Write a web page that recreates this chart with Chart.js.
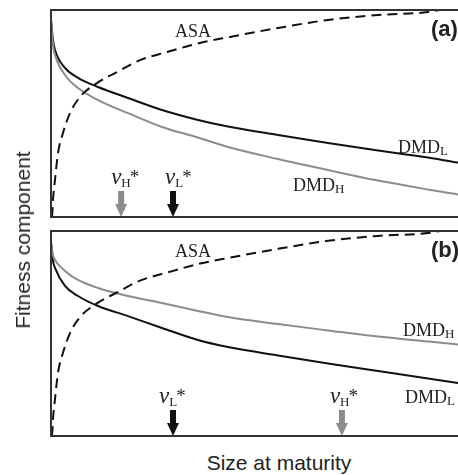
<!DOCTYPE html>
<html>
<head>
<meta charset="utf-8">
<script src="https://cdn.jsdelivr.net/npm/chart.js@4"></script>
<style>
  body { margin: 0; background: #fff; width: 458px; height: 475px; overflow: hidden; position: relative; }
  canvas { position: absolute; left: 0; }
  #pa { top: 0; }
  #pb { top: 225px; }
  .title { position: absolute; font-family: "Liberation Sans", Arial, sans-serif; font-size: 21px; color: #222; white-space: nowrap; }
  #ytitle { left: 23px; top: 240px; transform: translate(-50%, -50%) rotate(-90deg); }
  #xtitle { left: 279px; top: 463px; transform: translate(-50%, -50%); }
</style>
</head>
<body>
<canvas id="pa" width="470" height="225"></canvas>
<canvas id="pb" width="470" height="215"></canvas>
<div class="title" id="ytitle">Fitness component</div>
<div class="title" id="xtitle">Size at maturity</div>
<script>
// size at maturity (0-100, arbitrary units)
const asaSize = [0.24, 0.36, 0.48, 0.96, 1.69, 2.89, 4.58, 6.99, 11.08, 15.9, 21.45, 27.95, 35.9, 43.13, 54.7, 66.75, 78.8, 90.84, 93.73, 100];
const asaFit  = [0, 3.4, 8.2, 17.9, 30.9, 40.6, 50.2, 58.0, 64.7, 70.0, 75.8, 79.7, 84.1, 87.0, 91.3, 95.2, 97.6, 99.0, 100, 101.5];

const dmdSize = [0, 0.48, 0.96, 3.37, 6.51, 11.33, 18.55, 26.75, 35.42, 42.65, 54.7, 66.75, 78.8, 90.84, 98.07, 100];
// panel (a)
const dmdLowA  = [95.2, 85.5, 80.7, 72.0, 67.2, 62.8, 57.5, 51.7, 46.9, 43.7, 39.6, 35.7, 32.1, 28.7, 26.3, 25.8];
const dmdHighA = [95.2, 83.1, 78.3, 68.6, 62.3, 56.5, 50.2, 43.5, 38.4, 33.8, 28.0, 22.7, 17.6, 13.3, 10.9, 10.1];
// panel (b)
const dmdHighB = [94.6, 88.3, 85.9, 80.5, 76.1, 72.2, 68.3, 64.9, 61.0, 58.0, 54.6, 51.5, 48.5, 46.1, 44.6, 44.1];
const dmdLowB  = [94.6, 85.4, 82.0, 73.2, 68.3, 63.4, 58.5, 52.7, 46.8, 43.4, 39.3, 35.4, 31.7, 28.0, 25.9, 25.4];

// optimal sizes v*
const optA = { H: 16.9, L: 29.4 };
const optB = { H: 70.1, L: 29.4 };

const BLACK = '#111';
const GREY = '#8c8c8c';

const xy = (xs, ys) => xs.map((x, i) => ({ x: x, y: ys[i] }));

const decor = {
  id: 'decor',
  afterDatasetsDraw(chart, args, opts) {
    const { ctx, chartArea: a, scales: { x, y } } = chart;
    ctx.save();
    // arrows + v* labels
    opts.arrows.forEach(ar => {
      const px = x.getPixelForValue(ar.value);
      const b = a.bottom;
      ctx.fillStyle = ar.color;
      ctx.fillRect(px - 3, b - 26, 6, 13);
      ctx.beginPath();
      ctx.moveTo(px - 6, b - 13);
      ctx.lineTo(px + 6, b - 13);
      ctx.lineTo(px, b);
      ctx.closePath();
      ctx.fill();
      let tx = px + ar.dx;
      const base = b - 33;
      ctx.fillStyle = '#222';
      ctx.textBaseline = 'alphabetic';
      ctx.font = 'italic 23px "Liberation Serif", serif';
      ctx.fillText('v', tx, base);
      tx += ctx.measureText('v').width;
      ctx.font = '13px "Liberation Serif", serif';
      ctx.fillText(ar.sub, tx, base + 3);
      tx += ctx.measureText(ar.sub).width - 1;
      ctx.font = '19px "Liberation Serif", serif';
      ctx.fillText('*', tx, base - 1);
    });
    // curve names
    opts.labels.forEach(l => {
      let tx = x.getPixelForValue(l.x);
      const base = y.getPixelForValue(l.y);
      ctx.fillStyle = '#222';
      ctx.font = '18px "Liberation Serif", serif';
      ctx.fillText(l.text, tx, base);
      if (l.sub) {
        tx += ctx.measureText(l.text).width;
        ctx.font = '13px "Liberation Serif", serif';
        ctx.fillText(l.sub, tx, base + 2);
      }
    });
    // panel tag
    ctx.fillStyle = '#222';
    ctx.font = 'bold 22px "Liberation Sans", Arial, sans-serif';
    ctx.fillText(opts.tag, 431, a.top + 26);
    // frame
    ctx.strokeStyle = '#333';
    ctx.lineWidth = 2;
    ctx.strokeRect(a.left, a.top, a.right - a.left, a.bottom - a.top);
    ctx.restore();
  }
};

function panel(id, tag, low, high, arrows, labels, pad) {
  new Chart(document.getElementById(id), {
    type: 'line',
    data: {
      datasets: [
        { label: 'ASA', data: xy(asaSize, asaFit), borderColor: BLACK, borderWidth: 2, borderDash: [10, 6] },
        { label: 'DMD_H', data: xy(dmdSize, high), borderColor: GREY, borderWidth: 2 },
        { label: 'DMD_L', data: xy(dmdSize, low), borderColor: BLACK, borderWidth: 2 }
      ]
    },
    options: {
      responsive: false,
      animation: false,
      layout: { padding: pad },
      elements: { point: { radius: 0 }, line: { cubicInterpolationMode: 'monotone' } },
      scales: {
        x: { type: 'linear', min: 0, max: 100, display: false },
        y: { min: 0, max: 100, display: false }
      },
      plugins: {
        legend: { display: false },
        tooltip: { enabled: false },
        decor: { tag: tag, arrows: arrows, labels: labels }
      }
    },
    plugins: [decor]
  });
}

panel('pa', '(a)', dmdLowA, dmdHighA,
  [{ value: optA.H, sub: 'H', color: GREY, dx: -10 }, { value: optA.L, sub: 'L', color: BLACK, dx: -8 }],
  [{ text: 'ASA', x: 29.9, y: 87.0 }, { text: 'DMD', sub: 'L', x: 83.6, y: 30.9 }, { text: 'DMD', sub: 'H', x: 58.3, y: 12.6 }],
  { left: 51, right: 4, top: 10, bottom: 8 });

panel('pb', '(b)', dmdLowB, dmdHighB,
  [{ value: optB.L, sub: 'L', color: BLACK, dx: -14 }, { value: optB.H, sub: 'H', color: GREY, dx: -12 }],
  [{ text: 'ASA', x: 29.9, y: 87.3 }, { text: 'DMD', sub: 'H', x: 84.8, y: 48.8 }, { text: 'DMD', sub: 'L', x: 85.3, y: 16.1 }],
  { left: 51, right: 4, top: 6, bottom: 4 });
</script>
</body>
</html>
